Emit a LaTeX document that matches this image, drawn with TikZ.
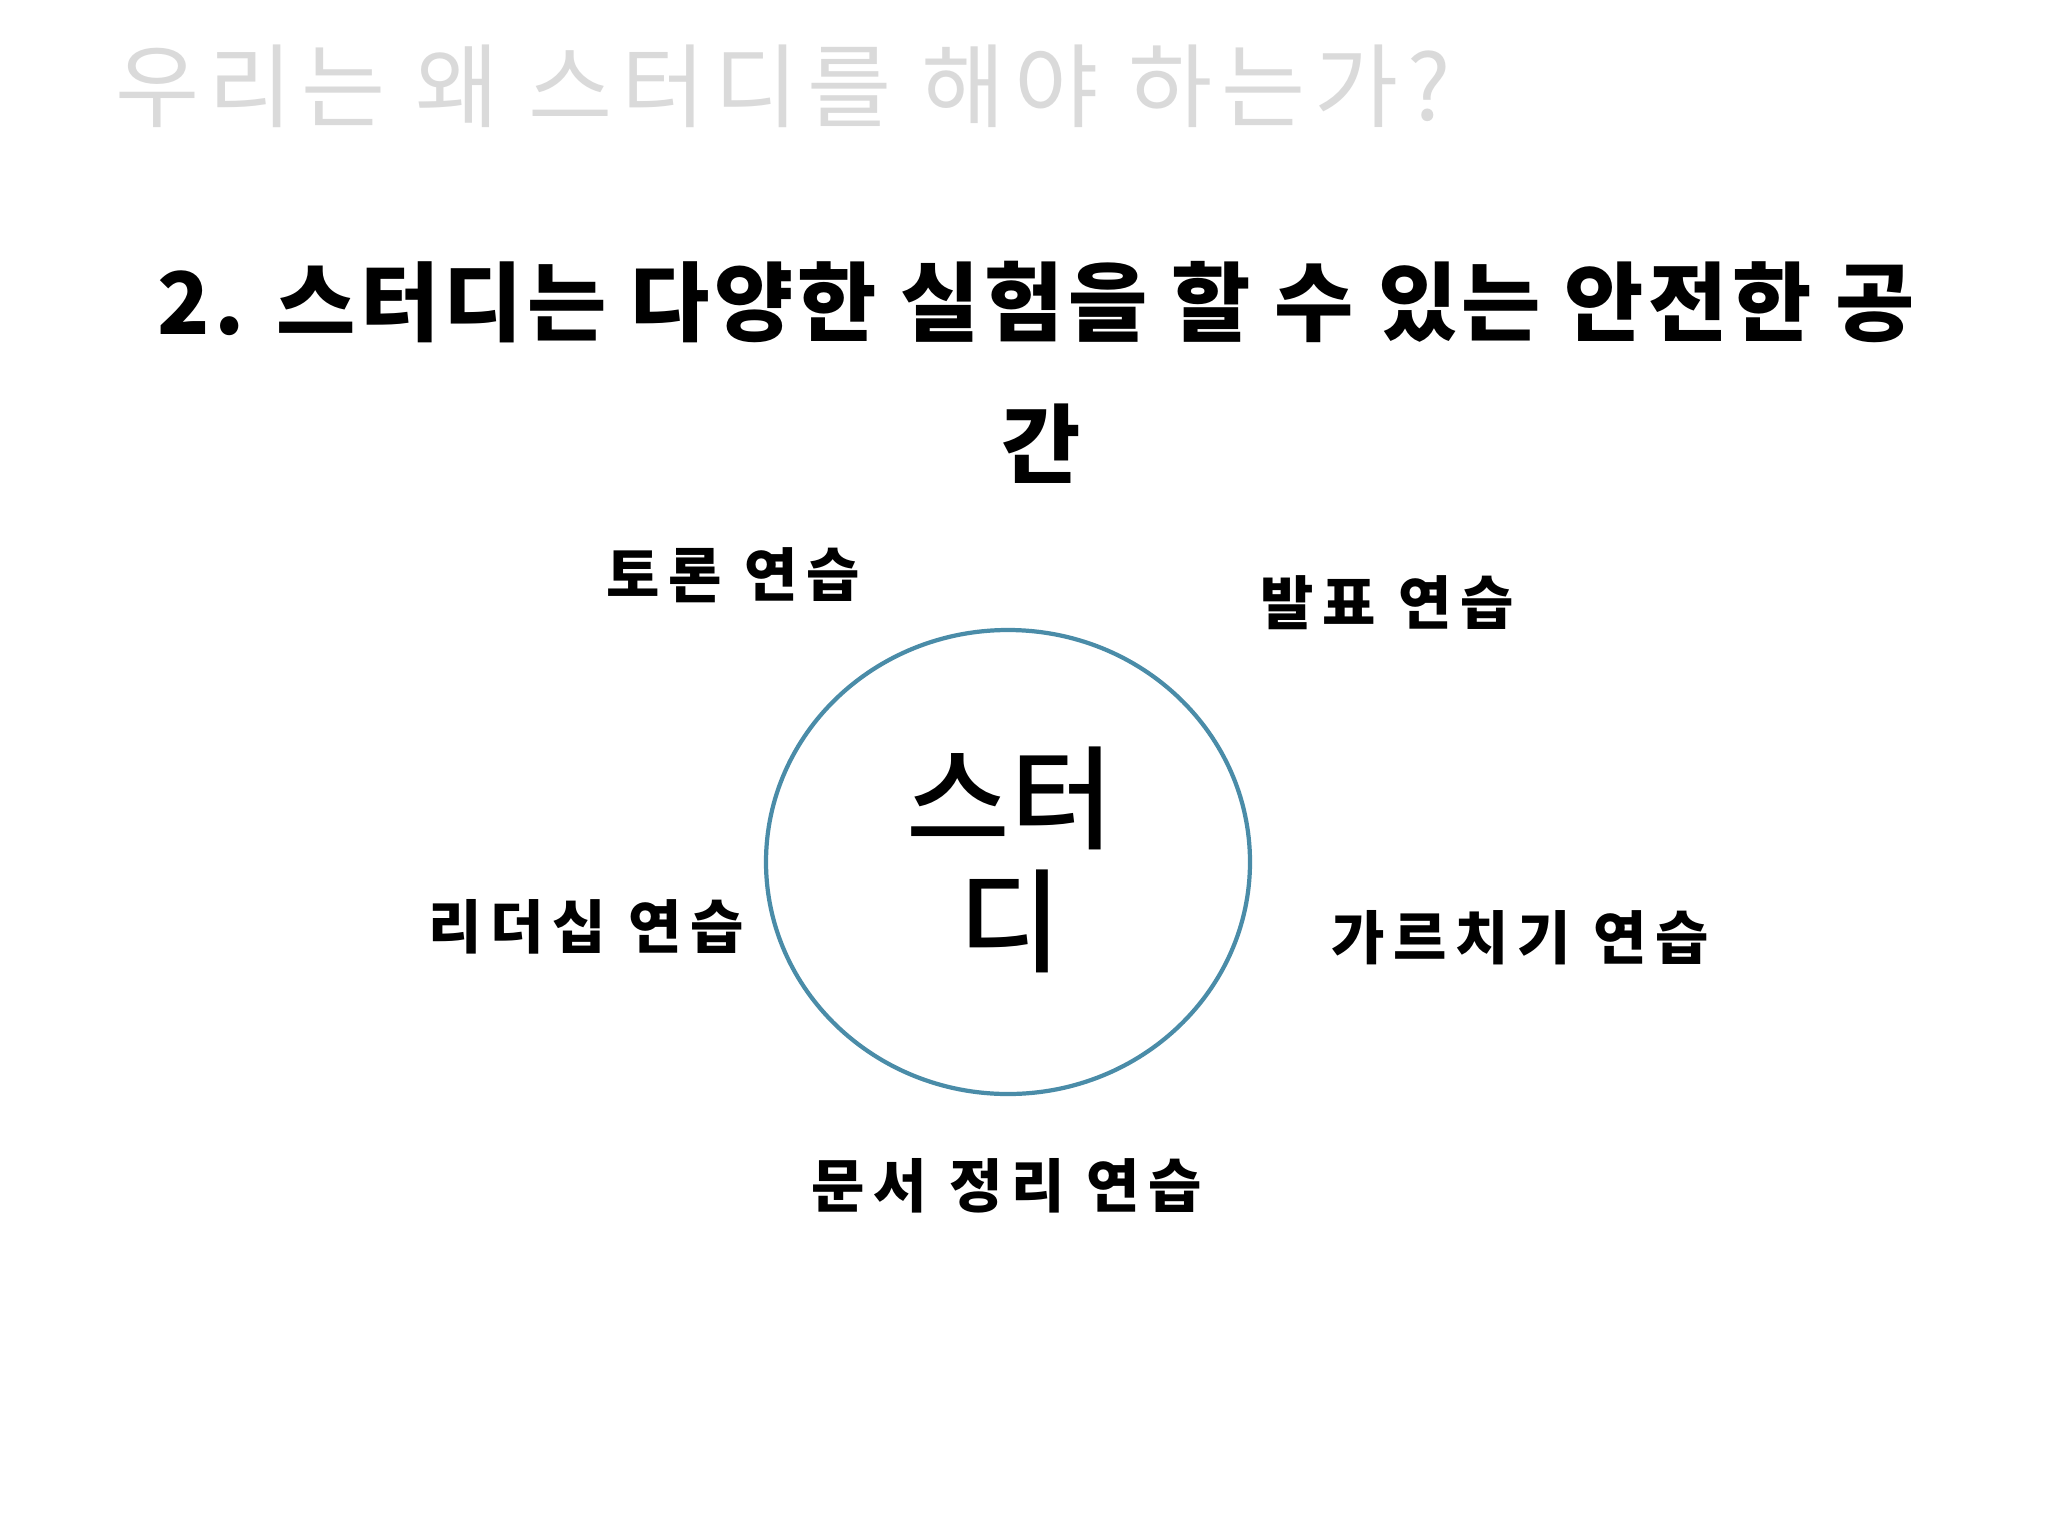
\documentclass[tikz,border=0pt]{standalone}
\usepackage{fontspec}
\setmainfont{Noto Sans CJK KR}
\newfontfamily\krmedium{Noto Sans CJK KR Medium}
\definecolor{ringblue}{HTML}{4A8CA8}
\definecolor{titlegray}{HTML}{DADADA}
\begin{document}
\begin{tikzpicture}[x=0.01cm,y=-0.01cm,
		practice/.style={font=\fontsize{16.5}{20}\selectfont\bfseries\addfontfeature{LetterSpace=15}},
		heading/.style={font=\fontsize{24.5}{30}\selectfont\bfseries\addfontfeature{LetterSpace=5}}]
		\useasboundingbox[fill=white] (0,0) rectangle (2048,1536);
		
		% slide title
		\node[anchor=west, text=titlegray, font=\fontsize{26}{30}\selectfont\addfontfeature{LetterSpace=9.8}] (title) at (103,86) {우리는 왜 스터디를 해야 하는가?};
		\node[heading] (head1) at (1036,302) {2. 스터디는 다양한 실험을 할 수 있는 안전한 공};
		\node[heading] (head2) at (1041,444) {간};
		
		% center
		\draw[ringblue, line width=1.2pt] (1008,862) ellipse [x radius=242, y radius=232];
		\node[align=center, font=\fontsize{32}{35}\selectfont\krmedium] (study) at (1010,860) {스터\\디};
		
		% practices around
		\node[practice] (debate) at (733,575) {토론 연습};
		\node[practice] (talk) at (1387,603) {발표 연습};
		\node[practice] (lead) at (586,927) {리더십 연습};
		\node[practice] (teach) at (1520,938) {가르치기 연습};
		\node[practice] (docs) at (1007,1186) {문서 정리 연습};
\end{tikzpicture}
\end{document}
